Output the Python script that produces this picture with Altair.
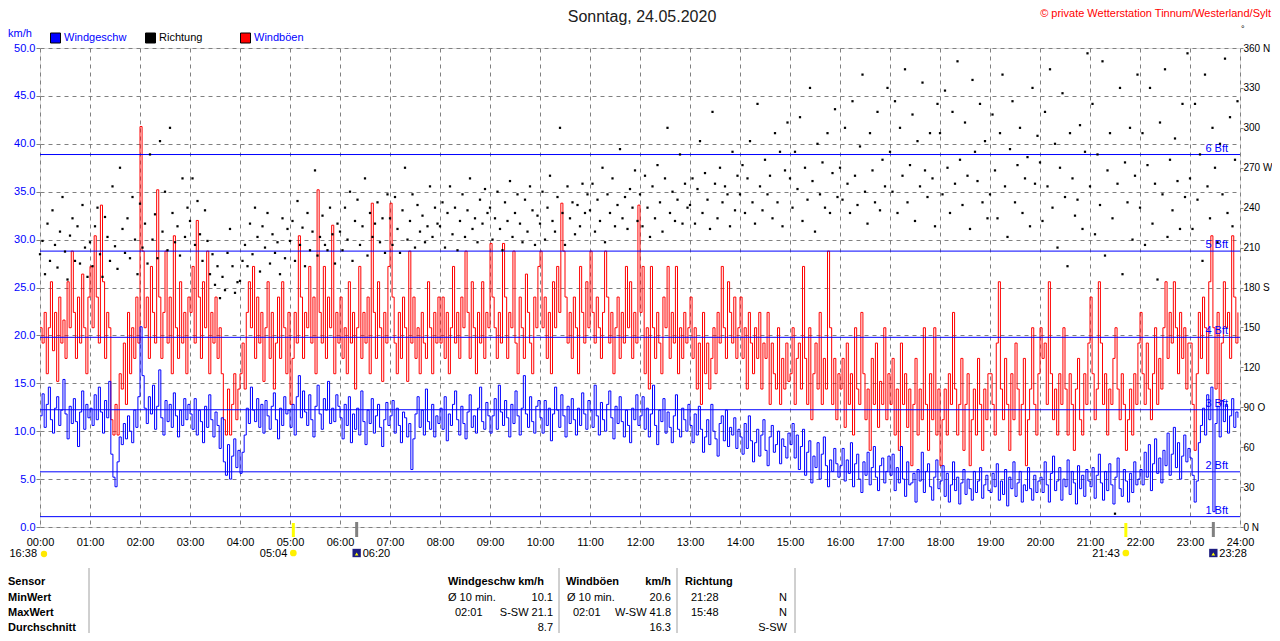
import altair as alt
import pandas as pd

FONT = "Liberation Sans"

# ---- wind speed km/h, 2.5-minute steps, one row per hour (00..23)
speed_h = [
    [11.6, 13.9, 10.4, 12.8, 14.6, 11.2, 9.8, 12.4, 13.6, 10.6, 12.2, 15.4, 11.8, 9.2, 12.6, 10.8, 13.4, 11.0, 8.4, 12.0, 14.2, 10.2, 12.8, 11.4],
    [12.4, 10.6, 13.8, 11.2, 14.6, 12.0, 9.8, 13.2, 11.4, 15.2, 7.6, 5.2, 4.2, 6.8, 9.4, 8.6, 10.8, 9.2, 11.6, 10.0, 8.8, 12.2, 10.4, 13.6],
    [20.9, 15.8, 12.4, 10.8, 13.6, 11.8, 14.8, 10.2, 12.6, 16.4, 11.4, 9.6, 13.2, 11.0, 12.8, 10.4, 14.0, 11.6, 9.4, 12.2, 10.6, 13.4, 11.2, 12.8],
    [11.8, 10.2, 13.4, 9.6, 12.2, 11.0, 8.8, 12.6, 10.4, 13.8, 11.2, 9.4, 12.0, 10.6, 8.2, 11.4, 6.8, 5.4, 8.6, 5.0, 7.4, 9.2, 6.2, 8.0],
    [5.6, 7.8, 9.6, 12.4, 10.8, 14.6, 12.2, 11.0, 13.4, 10.4, 12.8, 9.8, 13.2, 11.6, 10.2, 12.6, 14.0, 11.2, 9.2, 12.4, 10.6, 13.6, 11.8, 12.2],
    [10.4, 12.8, 9.6, 13.6, 15.8, 11.4, 14.2, 12.0, 10.6, 13.8, 11.2, 9.4, 12.6, 14.8, 11.8, 10.2, 13.4, 12.2, 15.2, 10.8, 12.4, 11.0, 13.8, 12.6],
    [11.4, 9.2, 12.8, 10.6, 13.6, 8.8, 11.8, 10.2, 12.4, 9.6, 14.2, 11.0, 8.6, 12.2, 10.8, 13.4, 9.8, 11.6, 12.8, 10.4, 8.4, 11.2, 13.0, 10.6],
    [11.6, 13.2, 9.8, 12.4, 10.6, 8.8, 12.0, 11.4, 9.4, 10.8, 6.0, 9.2, 11.8, 13.6, 10.4, 12.2, 9.6, 14.4, 11.0, 10.2, 12.8, 9.4, 11.6, 10.8],
    [12.4, 10.2, 13.6, 9.0, 11.8, 10.6, 12.8, 14.2, 11.2, 9.6, 12.6, 10.8, 9.2, 12.0, 13.8, 10.4, 11.6, 9.8, 12.4, 14.6, 11.0, 10.2, 13.0, 11.6],
    [9.8, 11.6, 13.4, 10.2, 14.8, 12.0, 10.6, 13.2, 11.4, 9.4, 12.8, 10.8, 14.2, 11.6, 9.6, 12.4, 15.8, 11.8, 10.4, 13.6, 11.0, 9.8, 12.6, 13.2],
    [11.4, 9.8, 13.2, 10.6, 12.4, 9.0, 11.8, 14.6, 12.2, 10.4, 13.8, 11.6, 9.4, 12.6, 10.8, 13.4, 11.2, 9.6, 12.4, 10.6, 14.0, 11.8, 10.2, 13.2],
    [12.2, 10.4, 14.8, 11.6, 9.6, 13.0, 11.2, 10.0, 12.8, 14.2, 11.4, 9.2, 12.6, 10.8, 13.6, 11.0, 9.4, 12.2, 10.6, 8.8, 12.4, 11.2, 13.8, 10.6],
    [11.6, 13.6, 10.2, 12.4, 9.4, 11.8, 14.8, 10.6, 8.6, 12.2, 11.0, 13.4, 9.8, 12.0, 10.4, 8.8, 11.6, 13.8, 10.2, 9.4, 12.4, 11.2, 10.0, 12.8],
    [10.6, 8.8, 11.8, 9.6, 12.6, 10.2, 7.8, 9.4, 11.2, 8.6, 12.8, 10.0, 9.2, 7.4, 10.8, 11.6, 9.0, 12.2, 8.4, 10.4, 9.6, 11.4, 8.2, 10.2],
    [9.4, 7.6, 10.8, 8.2, 11.6, 9.0, 6.8, 8.8, 10.2, 7.4, 9.6, 11.2, 8.0, 6.4, 9.4, 10.6, 7.8, 8.6, 10.0, 6.6, 9.2, 8.4, 7.2, 9.8],
    [8.6, 10.8, 7.2, 9.6, 6.0, 8.4, 10.2, 5.4, 7.8, 9.0, 4.6, 7.4, 6.2, 8.8, 5.0, 7.6, 9.4, 6.4, 4.2, 7.0, 5.8, 8.2, 6.6, 5.2],
    [6.4, 8.2, 4.8, 7.0, 5.6, 8.8, 4.2, 6.6, 7.6, 5.0, 3.6, 6.8, 5.4, 7.8, 4.4, 6.2, 8.4, 5.2, 3.8, 6.4, 7.2, 4.6, 5.8, 7.4],
    [5.4, 7.6, 3.8, 6.2, 4.6, 8.4, 5.0, 3.2, 6.8, 4.4, 4.6, 5.6, 2.6, 6.0, 4.8, 7.8, 3.6, 5.8, 6.6, 4.2, 2.8, 5.2, 7.0, 4.0],
    [4.8, 6.4, 3.2, 5.6, 2.6, 4.4, 6.8, 3.8, 5.2, 2.4, 4.6, 6.0, 3.4, 5.0, 4.0, 2.8, 5.8, 3.6, 4.8, 6.2, 3.0, 4.4, 5.4, 3.8],
    [3.6, 5.6, 4.2, 6.6, 2.8, 4.8, 3.4, 6.0, 2.2, 5.2, 4.0, 6.8, 3.2, 4.6, 5.8, 2.6, 4.4, 3.8, 6.2, 4.0, 2.8, 5.4, 3.6, 4.8],
    [5.2, 3.6, 6.8, 4.4, 2.6, 5.6, 7.4, 3.8, 4.8, 6.2, 2.8, 5.0, 4.2, 7.0, 3.4, 5.8, 4.6, 2.4, 6.4, 4.0, 5.4, 3.2, 6.0, 4.8],
    [4.2, 6.2, 3.0, 5.4, 7.6, 4.6, 2.8, 5.8, 3.8, 6.6, 4.4, 2.4, 5.2, 7.2, 4.0, 3.2, 6.0, 4.8, 2.6, 5.6, 3.6, 6.8, 4.4, 5.0],
    [6.0, 4.4, 7.8, 5.2, 8.6, 3.8, 6.6, 9.2, 5.6, 7.2, 4.6, 8.0, 6.4, 9.8, 5.4, 7.6, 10.4, 6.2, 8.8, 5.0, 7.4, 9.6, 6.8, 8.2],
    [7.2, 5.4, 2.6, 4.8, 8.8, 10.6, 12.4, 9.6, 13.8, 11.2, 14.6, 1.6, 10.8, 12.6, 9.4, 13.2, 11.0, 12.8, 9.8, 11.6, 13.4, 10.4, 12.0, 11.4],
]

# ---- wind gusts km/h, 2.5-minute steps
gust_h = [
    [20.8, 19.2, 22.4, 16.0, 20.8, 25.6, 18.4, 22.4, 15.2, 24.0, 19.2, 21.6, 17.6, 25.6, 20.8, 28.8, 22.4, 17.6, 24.0, 19.2, 26.4, 20.8, 16.0, 24.0],
    [27.2, 20.8, 30.4, 24.0, 19.2, 33.6, 25.6, 17.6, 22.4, 20.8, 11.2, 9.6, 12.8, 9.6, 16.0, 14.4, 19.2, 12.8, 22.4, 16.0, 20.8, 17.6, 24.0, 19.2],
    [41.8, 28.8, 20.8, 24.0, 17.6, 27.2, 22.4, 19.2, 35.2, 24.0, 17.6, 22.4, 28.8, 19.2, 24.0, 16.0, 30.4, 20.8, 17.6, 25.6, 19.2, 22.4, 16.0, 24.0],
    [22.4, 27.2, 19.2, 32.0, 24.0, 17.6, 25.6, 20.8, 28.8, 16.0, 22.4, 19.2, 24.0, 17.6, 20.8, 16.0, 11.2, 9.6, 14.4, 9.6, 12.8, 16.0, 11.2, 14.4],
    [16.0, 19.2, 14.4, 22.4, 25.6, 20.8, 27.2, 17.6, 24.0, 19.2, 22.4, 15.2, 20.8, 25.6, 17.6, 22.4, 14.4, 19.2, 24.0, 17.6, 25.6, 20.8, 16.0, 22.4],
    [12.8, 17.6, 22.4, 19.2, 30.4, 24.0, 17.6, 22.4, 20.8, 27.2, 19.2, 24.0, 16.0, 35.2, 22.4, 19.2, 27.2, 17.6, 24.0, 20.8, 31.5, 16.0, 22.4, 19.2],
    [24.0, 17.6, 20.8, 16.0, 25.6, 19.2, 22.4, 14.4, 20.8, 27.2, 17.6, 22.4, 19.2, 24.0, 16.0, 33.8, 22.4, 17.6, 25.6, 20.8, 15.2, 22.4, 19.2, 27.2],
    [33.8, 24.0, 19.2, 16.0, 22.4, 17.6, 24.0, 20.8, 15.2, 28.8, 19.2, 24.0, 17.6, 20.8, 16.0, 22.4, 19.2, 17.6, 25.6, 20.8, 16.0, 22.4, 19.2, 24.0],
    [19.2, 24.0, 17.6, 22.4, 16.0, 20.8, 27.2, 19.2, 22.4, 17.6, 24.0, 20.8, 28.8, 22.4, 17.6, 25.6, 20.8, 16.0, 22.4, 19.2, 25.6, 17.6, 22.4, 20.8],
    [29.6, 24.0, 20.8, 17.6, 22.4, 19.2, 29.6, 24.0, 17.6, 22.4, 20.8, 28.8, 19.2, 16.0, 24.0, 20.8, 17.6, 26.4, 22.4, 19.2, 16.0, 24.0, 20.8, 27.2],
    [28.8, 20.8, 24.0, 17.6, 22.4, 16.0, 25.6, 20.8, 27.2, 22.4, 33.8, 28.8, 24.0, 19.2, 22.4, 17.6, 24.0, 20.8, 16.0, 27.2, 22.4, 19.2, 25.6, 20.8],
    [28.8, 22.4, 19.2, 24.0, 20.8, 17.6, 22.4, 28.8, 24.0, 19.2, 22.4, 16.0, 20.8, 24.0, 17.6, 22.4, 19.2, 27.2, 20.8, 25.6, 17.6, 22.4, 19.2, 33.6],
    [22.4, 27.2, 16.0, 20.8, 14.4, 27.2, 20.8, 17.6, 22.4, 19.2, 16.0, 24.0, 20.8, 27.2, 17.6, 22.4, 19.2, 27.2, 16.0, 20.8, 17.6, 22.4, 19.2, 20.8],
    [24.0, 17.6, 20.8, 14.4, 19.2, 12.8, 22.4, 16.0, 19.2, 14.4, 17.6, 20.8, 16.0, 22.4, 19.2, 27.2, 20.8, 17.6, 25.6, 22.4, 19.2, 24.0, 17.6, 20.8],
    [24.0, 17.6, 20.8, 14.4, 22.4, 19.2, 16.0, 20.8, 17.6, 22.4, 14.4, 19.2, 17.6, 22.4, 12.8, 19.2, 16.0, 14.4, 20.8, 12.8, 17.6, 14.4, 19.2, 15.2],
    [16.0, 20.8, 12.8, 17.6, 19.2, 14.4, 27.2, 17.6, 12.8, 20.8, 11.2, 16.0, 19.2, 14.4, 22.4, 12.8, 17.6, 14.4, 28.8, 20.8, 12.8, 17.6, 11.2, 16.0],
    [14.4, 17.6, 10.4, 19.2, 12.8, 16.0, 9.6, 20.8, 14.4, 12.8, 22.4, 16.0, 11.2, 14.4, 8.0, 17.6, 12.8, 19.2, 10.4, 15.2, 12.8, 20.8, 11.2, 16.0],
    [12.8, 17.6, 9.6, 14.4, 8.0, 19.2, 12.8, 16.0, 10.4, 14.4, 6.4, 12.8, 17.6, 9.6, 14.4, 11.2, 20.8, 12.8, 8.0, 16.0, 11.2, 20.8, 9.6, 14.4],
    [6.4, 11.2, 14.4, 9.6, 16.0, 12.8, 22.4, 14.4, 9.6, 12.8, 17.6, 8.0, 12.8, 16.0, 6.4, 11.2, 14.4, 9.6, 17.6, 12.8, 8.0, 14.4, 11.2, 16.0],
    [16.0, 12.8, 9.6, 19.2, 25.6, 14.4, 11.2, 17.6, 12.8, 8.0, 16.0, 11.2, 19.2, 14.4, 9.6, 12.8, 17.6, 6.4, 11.2, 14.4, 20.8, 12.8, 9.6, 16.0],
    [20.8, 17.6, 19.2, 12.8, 25.6, 16.0, 11.2, 14.4, 9.6, 16.0, 12.8, 20.8, 14.4, 9.6, 16.0, 12.8, 8.0, 14.4, 17.6, 11.2, 9.6, 16.0, 12.8, 19.2],
    [24.0, 16.0, 11.2, 14.4, 25.6, 19.2, 12.8, 16.0, 9.6, 14.4, 12.8, 17.6, 20.8, 14.4, 11.2, 16.0, 12.8, 8.0, 11.2, 14.4, 9.6, 16.0, 12.8, 19.2],
    [22.4, 16.0, 12.8, 19.2, 14.4, 11.2, 16.0, 20.8, 12.8, 17.6, 14.4, 20.8, 25.6, 17.6, 22.4, 19.2, 25.6, 20.8, 16.0, 22.4, 17.6, 20.8, 14.4, 19.2],
    [19.2, 12.8, 8.0, 16.0, 22.4, 17.6, 24.0, 20.8, 16.0, 25.6, 30.4, 20.8, 14.4, 22.4, 12.8, 19.2, 25.6, 20.8, 22.4, 17.6, 30.4, 24.0, 19.2, 22.4],
]

# ---- wind direction (degrees), 3-minute steps
dir_h = [
    [205, 215, 190, 228, 200, 238, 212, 195, 222, 248, 207, 186, 219, 232, 200, 226, 198, 242, 210, 188],
    [214, 196, 226, 240, 205, 188, 233, 218, 200, 256, 211, 194, 270, 224, 206, 232, 202, 248, 216, 190],
    [243, 210, 228, 198, 280, 216, 235, 202, 290, 222, 252, 208, 300, 236, 214, 226, 204, 262, 218, 240],
    [230, 262, 212, 245, 220, 200, 238, 215, 190, 205, 182, 196, 172, 188, 178, 206, 224, 196, 176, 184],
    [185, 200, 212, 196, 228, 205, 240, 218, 192, 226, 210, 236, 198, 220, 206, 214, 190, 232, 202, 224],
    [215, 230, 200, 245, 212, 225, 196, 236, 208, 222, 268, 204, 218, 234, 212, 208, 240, 220, 198, 228],
    [222, 208, 240, 216, 252, 200, 230, 246, 212, 226, 262, 204, 236, 218, 228, 244, 214, 232, 206, 250],
    [232, 212, 248, 224, 206, 238, 270, 216, 230, 250, 210, 242, 222, 234, 214, 226, 256, 218, 240, 228],
    [226, 244, 210, 236, 256, 220, 240, 208, 230, 250, 218, 238, 262, 224, 232, 214, 246, 228, 254, 236],
    [240, 216, 232, 252, 224, 208, 244, 230, 260, 218, 236, 250, 228, 214, 246, 222, 256, 238, 212, 234],
    [228, 252, 216, 240, 264, 230, 222, 248, 300, 236, 212, 256, 232, 244, 220, 242, 226, 258, 236, 250],
    [238, 258, 222, 246, 230, 270, 214, 250, 236, 262, 226, 242, 284, 232, 248, 224, 254, 240, 268, 230],
    [250, 226, 264, 240, 218, 256, 232, 272, 244, 222, 262, 300, 236, 252, 230, 246, 280, 228, 258, 240],
    [242, 262, 228, 254, 290, 236, 266, 246, 224, 312, 258, 232, 270, 244, 256, 250, 226, 282, 238, 264],
    [250, 272, 236, 262, 290, 244, 228, 318, 256, 238, 276, 250, 264, 232, 296, 244, 282, 226, 268, 304],
    [262, 240, 282, 254, 308, 230, 270, 246, 330, 260, 222, 288, 250, 274, 240, 296, 236, 266, 314, 248],
    [270, 246, 300, 258, 236, 320, 264, 242, 286, 340, 252, 228, 296, 268, 244, 312, 238, 276, 256, 330],
    [282, 252, 320, 236, 300, 264, 344, 244, 272, 310, 230, 290, 256, 334, 268, 248, 296, 262, 226, 318],
    [296, 250, 328, 270, 236, 312, 258, 350, 276, 242, 304, 264, 224, 336, 282, 260, 318, 244, 290, 232],
    [250, 310, 268, 232, 296, 340, 256, 218, 284, 320, 244, 272, 300, 236, 262, 278, 226, 330, 258, 294],
    [274, 230, 312, 256, 344, 240, 288, 210, 270, 326, 248, 196, 296, 262, 234, 246, 302, 224, 282, 356],
    [256, 318, 220, 280, 242, 350, 204, 268, 296, 232, 10, 258, 330, 190, 274, 244, 300, 216, 264, 340],
    [240, 296, 212, 272, 330, 228, 258, 186, 304, 250, 344, 218, 276, 238, 292, 260, 224, 318, 248, 356],
    [262, 224, 318, 246, 280, 200, 340, 256, 232, 300, 270, 214, 288, 250, 352, 236, 308, 226, 276, 320],
]

bft_kmh = [1.08, 5.76, 12.24, 19.8, 28.8, 38.88]
bft_labels = ["1 Bft", "2 Bft", "3 Bft", "4 Bft", "5 Bft", "6 Bft"]

event_hours = [5 + 4 / 60, 6 + 20 / 60, 21 + 43 / 60, 23 + 28 / 60]
event_labels = ["05:04", "06:20", "21:43", "23:28"]
event_kinds = ["sun", "moon", "sun", "moon"]

# ---- tables for the library
speed = [v for row in speed_h for v in row]
gust = [v for row in gust_h for v in row]
direction = [v for row in dir_h for v in row]
speed_df = pd.DataFrame({"t": [i * 24 / len(speed) for i in range(len(speed))], "v": speed})
gust_df = pd.DataFrame({"t": [i * 24 / len(gust) for i in range(len(gust))], "v": gust})
dir_df = pd.DataFrame({"t": [i * 24 / len(direction) for i in range(len(direction))], "d": direction})
bft_df = pd.DataFrame({"v": bft_kmh, "label": bft_labels})
ev_df = pd.DataFrame({"t": event_hours, "label": event_labels, "kind": event_kinds})
one = pd.DataFrame({"a": [0]})

BLUE = "#0000FF"
RED = "#FF0000"
GRAY = "#808080"

xaxis = alt.Axis(values=list(range(25)),
                 labelExpr="(datum.value < 10 ? '0' : '') + datum.value + ':00'",
                 grid=True, gridDash=[4, 4], gridColor=GRAY, gridWidth=1,
                 domain=False, ticks=False, tickSize=0, labelPadding=9,
                 labelFlush=False, labelOverlap=False, labelColor="black",
                 labelFontSize=11, labelFont=FONT, title=None)
X = alt.X("t:Q", scale=alt.Scale(domain=[0, 24], nice=False, zero=False), axis=xaxis)

ykaxis = alt.Axis(values=[i * 5 for i in range(11)], format=".1f", orient="left",
                  grid=True, gridDash=[4, 4], gridColor=GRAY, gridWidth=1,
                  domain=False, ticks=True, tickSize=4, tickColor=GRAY, labelPadding=1,
                  labelColor=BLUE, labelFontSize=11, labelFont=FONT, title=None,
                  labelOverlap=False)
YK = alt.Y("v:Q", scale=alt.Scale(domain=[0, 50], nice=False, zero=True), axis=ykaxis)

ydaxis = alt.Axis(values=[i * 30 for i in range(13)], orient="right",
                  labelExpr="datum.value == 0 ? '0  N' : datum.value == 90 ? '90  O' : "
                            "datum.value == 180 ? '180 S' : datum.value == 270 ? '270 W' : "
                            "datum.value == 360 ? '360 N' : datum.value",
                  grid=False, domain=False, ticks=True, tickSize=3, tickColor=GRAY,
                  labelPadding=0, labelColor="black", labelFontSize=10, labelFont=FONT,
                  title=None, labelOverlap=False)

gust_line = alt.Chart(gust_df).mark_line(color=RED, strokeWidth=1, interpolate="step-after").encode(x=X, y=YK)
speed_line = alt.Chart(speed_df).mark_line(color=BLUE, strokeWidth=1, interpolate="step-after").encode(x=X, y=YK)
bft_rules = alt.Chart(bft_df).mark_rule(color=BLUE, strokeWidth=1).encode(y=YK)
bft_text = alt.Chart(bft_df).mark_text(align="right", baseline="alphabetic", dy=-3, color=BLUE,
                                       fontSize=11, font=FONT).encode(
    x=alt.value(1188), y=YK, text="label:N")

left = alt.layer(gust_line, bft_rules, speed_line, bft_text)

dots = alt.Chart(dir_df).mark_square(size=5, color="black", opacity=1).encode(
    x=X, y=alt.Y("d:Q", scale=alt.Scale(domain=[0, 360], nice=False), axis=ydaxis))


def txt(s, x, y, align="left", size=11, color="black", weight="normal", font=FONT):
    return alt.Chart(one).mark_text(text=s, align=align, baseline="alphabetic", fontSize=size,
                                    color=color, fontWeight=weight, font=font).encode(
        x=alt.value(x), y=alt.value(y))


def square(x, y, fill, size=100, stroke="black"):
    return alt.Chart(one).mark_square(size=size, fill=fill, stroke=stroke,
                                      strokeWidth=1, opacity=1).encode(
        x=alt.value(x), y=alt.value(y))


def vline(x, y1, y2, color="#A0A0A0", w=1):
    return alt.Chart(one).mark_rule(color=color, strokeWidth=w).encode(
        x=alt.value(x), y=alt.value(y1), y2=alt.value(y2))


ann = [
    txt("Sonntag, 24.05.2020", 602, -26, align="center", size=16, color="#202020"),
    txt("\u00a9 private Wetterstation Tinnum/Westerland/Sylt", 1231, -31, align="right", color=RED),
    txt("\u00b0", 1201, -16, size=9),
    txt("km/h", -32, -11, color=BLUE),
    square(15.5, -10, BLUE), txt("Windgeschw", 24, -7, color=BLUE),
    square(110.5, -10, "black"), txt("Richtung", 119, -7),
    square(205.5, -10, RED), txt("Windb\u00f6en", 214, -7, color=BLUE),
    # table
    vline(49, 520, 600), vline(519, 520, 600), vline(637, 520, 600), vline(755, 520, 600),
    txt("Sensor", -32, 537, weight="bold"),
    txt("MinWert", -32, 553, weight="bold"),
    txt("MaxWert", -32, 568, weight="bold"),
    txt("Durchschnitt", -32, 583, weight="bold"),
    txt("Windgeschw km/h", 408, 537, weight="bold"),
    txt("\u00d8 10 min.", 408, 553), txt("10.1", 513, 553, align="right"),
    txt("02:01", 415, 568), txt("S-SW 21.1", 513, 568, align="right"),
    txt("8.7", 513, 583, align="right"),
    txt("Windb\u00f6en", 526, 537, weight="bold"), txt("km/h", 631, 537, align="right", weight="bold"),
    txt("\u00d8 10 min.", 527, 553), txt("20.6", 631, 553, align="right"),
    txt("02:01", 533, 568), txt("W-SW 41.8", 631, 568, align="right"),
    txt("16.3", 631, 583, align="right"),
    txt("Richtung", 645, 537, weight="bold"),
    txt("21:28", 651, 553), txt("N", 747, 553, align="right"),
    txt("15:48", 651, 568), txt("N", 747, 568, align="right"),
    txt("S-SW", 747, 583, align="right"),
    # previous-day marker at left
    txt("16:38", -3, 509, align="right"),
    alt.Chart(one).mark_point(shape="circle", size=40, filled=True, color="#FFE800", opacity=1).encode(
        x=alt.value(4), y=alt.value(506)),
]

sun_ev = ev_df[ev_df.kind == "sun"]
moon_ev = ev_df[ev_df.kind == "moon"]
events = [
    alt.Chart(sun_ev).mark_rule(color="#FFFF00", strokeWidth=3).encode(
        x=X, y=alt.value(475), y2=alt.value(489)),
    alt.Chart(moon_ev).mark_rule(color=GRAY, strokeWidth=3).encode(
        x=X, y=alt.value(474), y2=alt.value(489)),
    alt.Chart(sun_ev).mark_text(align="right", baseline="alphabetic", dx=-6, fontSize=11, font=FONT,
                                color="black").encode(x=X, y=alt.value(509), text="label:N"),
    alt.Chart(moon_ev).mark_text(align="left", baseline="alphabetic", dx=6, fontSize=11, font=FONT,
                                 color="black").encode(x=X, y=alt.value(509), text="label:N"),
    alt.Chart(sun_ev).mark_point(shape="circle", size=45, filled=True, color="#FFF000", opacity=1).encode(
        x=X, y=alt.value(505)),
    alt.Chart(moon_ev).mark_square(size=70, color="#1C1C80", opacity=1).encode(
        x=X, y=alt.value(505)),
    alt.Chart(moon_ev).mark_point(shape="triangle-up", size=14, filled=True, color="#FFFF00", opacity=1).encode(
        x=X, y=alt.value(506)),
]

chart = alt.layer(left, dots, *events, *ann).resolve_scale(y="independent").properties(
    width=1200, height=479,
    padding={"left": 32, "top": 40, "right": 32, "bottom": 106},
    autosize=alt.AutoSizeParams(type="none"),
).configure_view(stroke=GRAY, strokeWidth=3).configure(background="white")

chart.save("out.html", embed_options={"renderer": "svg", "actions": False})
